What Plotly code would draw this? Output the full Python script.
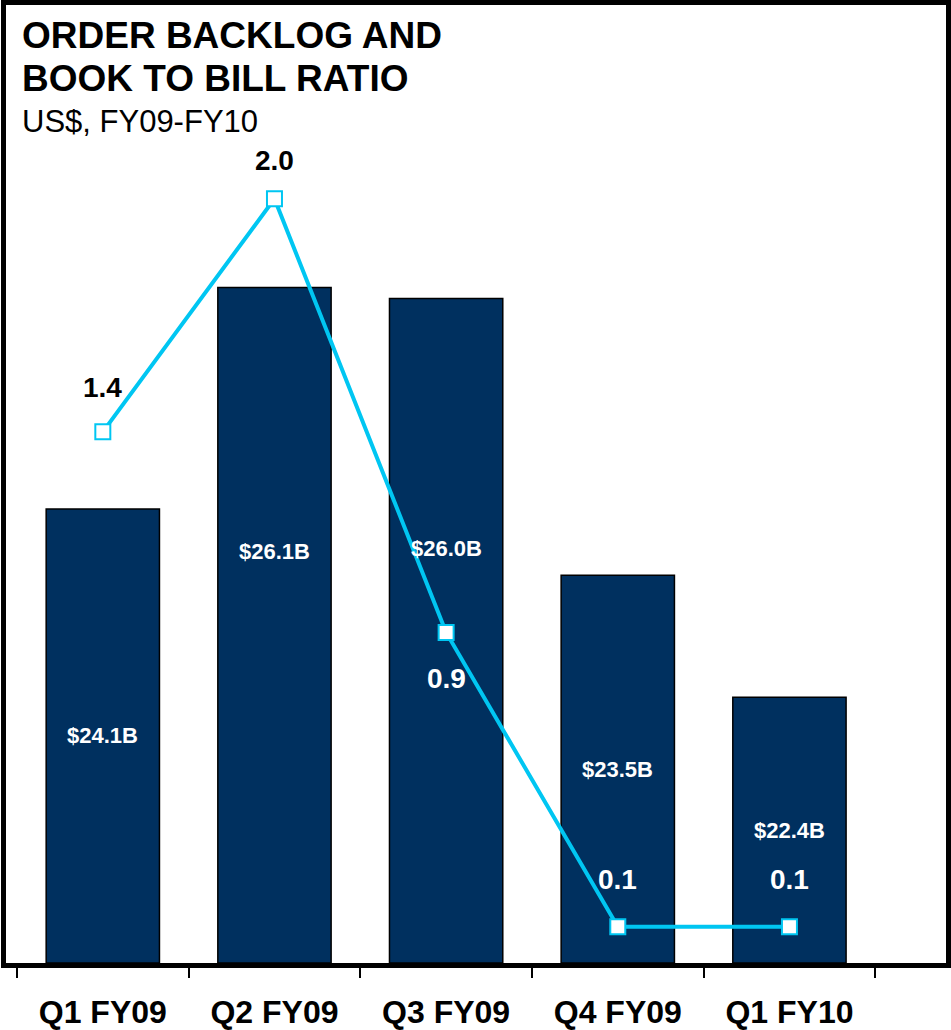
import plotly.graph_objects as go

categories = ["Q1 FY09", "Q2 FY09", "Q3 FY09", "Q4 FY09", "Q1 FY10"]
backlog = [24.1, 26.1, 26.0, 23.5, 22.4]
backlog_labels = ["$24.1B", "$26.1B", "$26.0B", "$23.5B", "$22.4B"]
ratio = [1.39, 2.00, 0.865, 0.095, 0.095]
ratio_labels = ["1.4", "2.0", "0.9", "0.1", "0.1"]

NAVY = "#00305F"
CYAN = "#00C6F2"
base = 20
FONT = "Liberation Sans, Arial"

fig = go.Figure()
fig.add_trace(go.Bar(
    x=categories, y=[v - base for v in backlog], base=base,
    width=0.66, marker=dict(color=NAVY, line=dict(color="#000000", width=1.5)),
    yaxis="y", hoverinfo="skip", showlegend=False))
fig.add_trace(go.Scatter(
    x=categories, y=ratio, yaxis="y2", mode="lines+markers",
    line=dict(color=CYAN, width=4),
    marker=dict(symbol="square", size=15, color="white", line=dict(color=CYAN, width=2)),
    showlegend=False, hoverinfo="skip"))

# bar labels
label_shift = [0, 74, 82, 0, 0]
for i, (c, v, t) in enumerate(zip(categories, backlog, backlog_labels)):
    fig.add_annotation(x=c, y=(base + v) / 2, yref="y", text="<b>%s</b>" % t, showarrow=False,
                       yshift=label_shift[i],
                       font=dict(family=FONT, size=22, color="white"))
# ratio labels
ratio_pos = [(44, "black"), (38, "black"), (-46, "white"), (47, "white"), (47, "white")]
for i, (c, v, t) in enumerate(zip(categories, ratio, ratio_labels)):
    shift, col = ratio_pos[i]
    fig.add_annotation(x=c, y=v, yref="y2", text="<b>%s</b>" % t, showarrow=False,
                       yshift=shift,
                       font=dict(family=FONT, size=28, color=col))

fig.add_annotation(xref="paper", yref="paper", x=0.015, y=(1030 - 33) / 1030, xanchor="left",
                   yanchor="middle", text="<b>ORDER BACKLOG AND</b>", showarrow=False,
                   font=dict(family=FONT, size=37, color="black"))
fig.add_annotation(xref="paper", yref="paper", x=0.015, y=(1030 - 79) / 1030, xanchor="left",
                   yanchor="middle", text="<b>BOOK TO BILL RATIO</b>", showarrow=False,
                   font=dict(family=FONT, size=37, color="black"))
fig.add_annotation(xref="paper", yref="paper", x=0.015, y=(1030 - 125) / 1030, xanchor="left",
                   yanchor="middle", text="US$, FY09-FY10", showarrow=False,
                   font=dict(family=FONT, size=31, color="black"))

fig.update_layout(
    width=951, height=1030,
    margin=dict(l=6, r=0, t=4, b=63),
    paper_bgcolor="white", plot_bgcolor="white",
    xaxis=dict(type="category", range=[-0.564, 4.912], showline=True, linecolor="black",
               linewidth=5, mirror=True, ticks="outside", tickson="boundaries", ticklen=10,
               tickwidth=2, tickcolor="black", showgrid=False, ticklabelstandoff=17,
               tickfont=dict(family=FONT, size=32, color="black"),
               tickprefix="<b>", ticksuffix="</b>"),
    yaxis=dict(range=[base, base + 8.65], showline=True, linecolor="black", linewidth=5,
               mirror=True, showticklabels=False, ticks="", showgrid=False, zeroline=False),
    yaxis2=dict(range=[0, 2.507], overlaying="y", side="right", showticklabels=False,
                showgrid=False, zeroline=False, ticks=""),
)
fig.write_html("out.html")
